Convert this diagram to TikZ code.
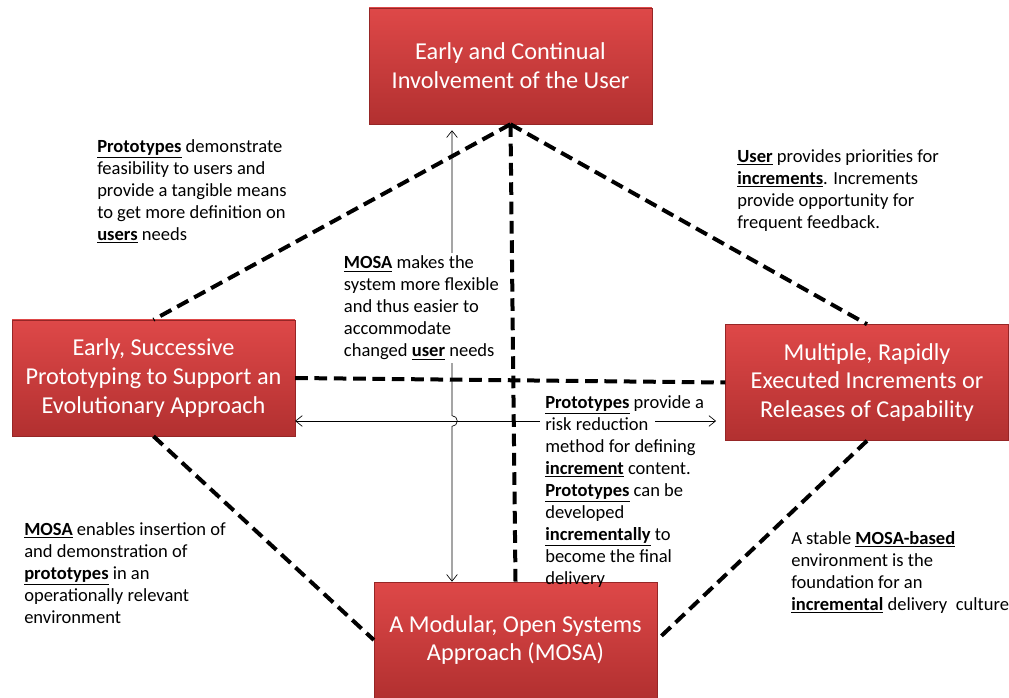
\documentclass[tikz,border=0pt]{standalone}
\usepackage{fontspec}
\setmainfont{Carlito}
\usetikzlibrary{arrows.meta, calc}
\definecolor{boxtop}{RGB}{222,72,72}
\definecolor{boxbot}{RGB}{178,48,48}
\definecolor{boxrim}{RGB}{150,38,38}
\tikzstyle{block} = [draw=boxrim, top color=boxtop, bottom color=boxbot, rectangle, text=white, align=center, minimum width=212pt, minimum height=87pt, font=\fontsize{18.2}{21.5}\selectfont]
\tikzstyle{note} = [anchor=north west, align=left, inner sep=0pt, font=\fontsize{13.9}{16.5}\selectfont]
\tikzstyle{link} = [draw, line width=3pt, dash pattern=on 9.5pt off 5pt]
\tikzstyle{thin} = [draw, line width=0.5pt]
\newcommand{\kw}[1]{\underline{\textbf{#1}}}

\begin{document}
\begin{tikzpicture}[x=0.75pt, y=-0.75pt, >={Straight Barb[length=5pt,width=8pt]}]
    \useasboundingbox (0,0) rectangle (1009,698);
    \node [block] (user) at (510.5,66) {Early and Continual\\Involvement of the User};
    \node [block] (proto) at (153.5,378) {Early, Successive\\Prototyping to Support an\\Evolutionary Approach};
    \node [block] (incr) at (867,382.5) {Multiple, Rapidly\\Executed Increments or\\Releases of Capability};
    \node [block] (mosa) at (515.5,640) {A Modular, Open Systems\\Approach (MOSA)};
    % dashed links between the four boxes
    \draw [link] (user.south) -- (proto.north);
    \draw [link] (user.south) -- (incr.north);
    \draw [link] (user.south) -- (mosa.north);
    \draw [link] (proto.east) -- (incr.west);
    \draw [link] (proto.south) -- (mosa.west);
    \draw [link] (incr.south) -- (mosa.east);
    % thin arrows
    \coordinate (hop) at (452,421);
    \coordinate (gapl) at (540,421);
    \coordinate (gapr) at (655,421);
    \draw [thin,<->] ([yshift=-4.5pt]user.south -| hop) -- ([yshift=4pt]hop) arc [start angle=90, end angle=-90, radius=4pt] -- (mosa.north -| hop);
    \draw [thin,<-] (proto.east |- hop) -- (gapl);
    \draw [thin,->] (gapr) -- ([xshift=-7pt]incr.west |- hop);
    % notes
    \node [note] (n1) at (97,139) {\kw{Prototypes} demonstrate\\feasibility to users and\\provide a tangible means\\to get more definition on\\\kw{users} needs};
    \node [note] (n2) at (737,149) {\kw{User} provides priorities for\\\kw{increments}. Increments\\provide opportunity for\\frequent feedback.};
    \node [note, fill=white, inner sep=2pt] (n3) at (341,253) {\kw{MOSA} makes the\\system more flexible\\and thus easier to\\accommodate\\changed \kw{user} needs};
    \node [note] (n4) at (545,395) {\kw{Prototypes} provide a\\risk reduction\\method for defining\\\kw{increment} content.\\\kw{Prototypes} can be\\developed\\\kw{incrementally} to\\become the final\\delivery};
    \node [note] (n5) at (24,522) {\kw{MOSA} enables insertion of\\and demonstration of\\\kw{prototypes} in an\\operationally relevant\\environment};
    \node [note] (n6) at (791,531) {A stable \kw{MOSA-based}\\environment is the\\foundation for an\\\kw{incremental} delivery~ culture};
\end{tikzpicture}
\end{document}
